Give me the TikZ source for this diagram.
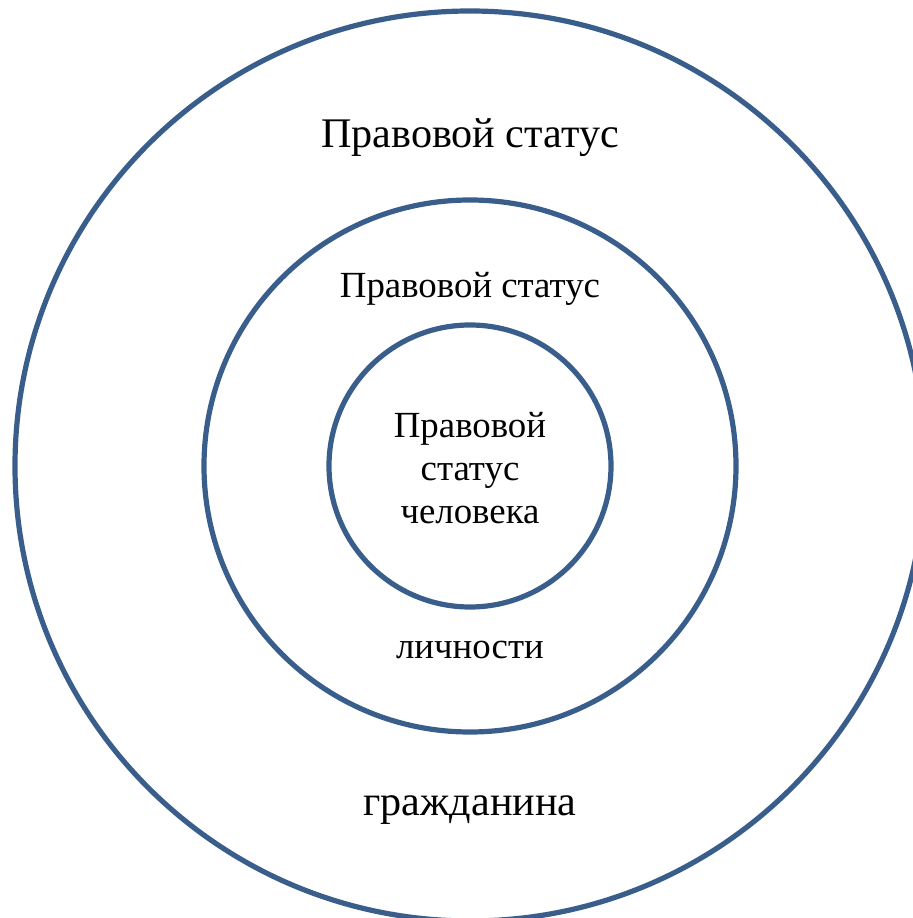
\documentclass[tikz,border=0pt]{standalone}
\usepackage{fontspec}
\setmainfont{Liberation Serif}
\usepackage{tikz}

\definecolor{ringblue}{RGB}{58,94,140}

\begin{document}
\begin{tikzpicture}

\useasboundingbox (-11.75,-11.3) rectangle (11.05,11.65);

\node[
    circle,
    draw=ringblue,
    line width=3.7pt,
    minimum size=22.75cm
] (citizen) at (0,0) {};

\node[
    circle,
    draw=ringblue,
    line width=3.7pt,
    minimum size=13.3cm
] (person) at (0,0) {};

\node[
    circle,
    draw=ringblue,
    line width=3.7pt,
    minimum size=7.05cm
] (human) at (0,0) {};

\node[font=\fontsize{30}{36}\selectfont, anchor=base] (citizentop) at (0,7.95)
{Правовой статус};
\node[font=\fontsize{30}{36}\selectfont, anchor=base] (citizenbot) at (0,-8.725)
{гражданина};

\node[font=\fontsize{26.2}{30.6}\selectfont, anchor=base] (persontop) at (0,4.2)
{Правовой статус};
\node[font=\fontsize{26.2}{30.6}\selectfont, anchor=base] (personbot) at (0,-4.8)
{личности};

\node[
    font=\fontsize{26.2}{30.6}\selectfont,
    align=center
] (humantext) at (0,-0.05)
{Правовой\\
 статус\\
 человека};

\end{tikzpicture}
\end{document}
